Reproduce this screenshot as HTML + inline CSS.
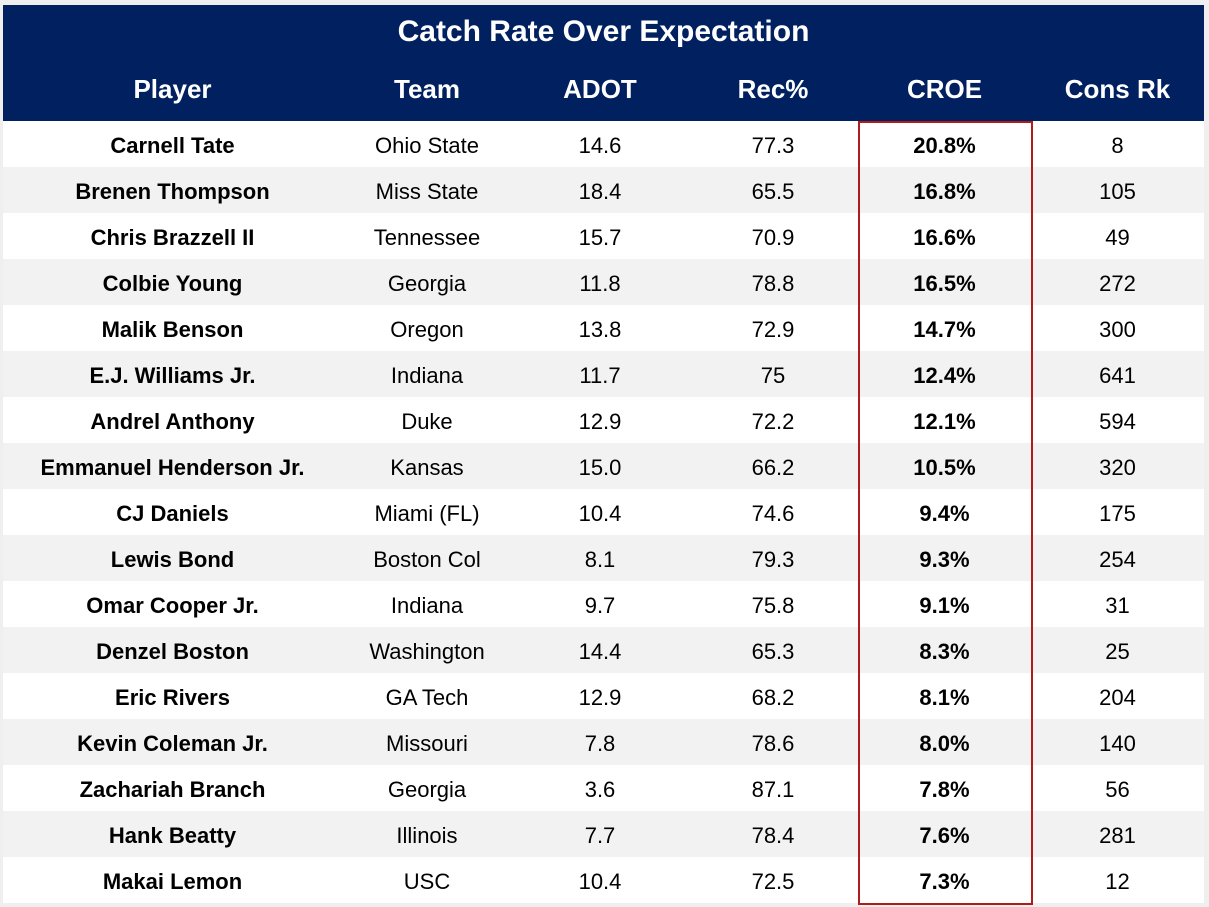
<!DOCTYPE html>
<html><head><meta charset="utf-8"><style>
html,body{margin:0;padding:0;background:#efefef;width:1209px;height:907px;overflow:hidden;font-family:"Liberation Sans",Arial,sans-serif;}
#wrap{position:absolute;left:3px;top:5px;width:1201px;}
#hdr{background:#002060;color:#fff;height:116px;position:relative;}
#title{position:absolute;left:0;right:0;top:10px;text-align:center;font-weight:bold;font-size:30px;}
.hrow{position:absolute;top:69px;left:0;right:0;height:36px;}
.c{position:absolute;text-align:center;white-space:nowrap;}
.hrow .c{font-weight:bold;font-size:26px;}
.row{position:relative;height:46px;font-size:22px;color:#000;}
.row .c{top:12px;}
.b{font-weight:bold;}
#box{position:absolute;left:855px;top:116px;width:171px;height:780px;border:2px solid #b01c1c;box-sizing:content-box;}
</style></head><body>
<div id="wrap">
<div id="hdr">
<div id="title">Catch Rate Over Expectation</div>
<div class="hrow">
<div class="c" style="left:0;width:339px">Player</div>
<div class="c" style="left:339px;width:170px">Team</div>
<div class="c" style="left:509px;width:176px">ADOT</div>
<div class="c" style="left:685px;width:170px">Rec%</div>
<div class="c" style="left:855px;width:173px">CROE</div>
<div class="c" style="left:1028px;width:173px">Cons Rk</div>
</div></div>
<div id="body"></div>
<div id="box"></div>
</div>
<script>
const players=["Carnell Tate","Brenen Thompson","Chris Brazzell II","Colbie Young","Malik Benson","E.J. Williams Jr.","Andrel Anthony","Emmanuel Henderson Jr.","CJ Daniels","Lewis Bond","Omar Cooper Jr.","Denzel Boston","Eric Rivers","Kevin Coleman Jr.","Zachariah Branch","Hank Beatty","Makai Lemon"];
const teams=["Ohio State","Miss State","Tennessee","Georgia","Oregon","Indiana","Duke","Kansas","Miami (FL)","Boston Col","Indiana","Washington","GA Tech","Missouri","Georgia","Illinois","USC"];
const adot=["14.6","18.4","15.7","11.8","13.8","11.7","12.9","15.0","10.4","8.1","9.7","14.4","12.9","7.8","3.6","7.7","10.4"];
const rec=["77.3","65.5","70.9","78.8","72.9","75","72.2","66.2","74.6","79.3","75.8","65.3","68.2","78.6","87.1","78.4","72.5"];
const croe=["20.8%","16.8%","16.6%","16.5%","14.7%","12.4%","12.1%","10.5%","9.4%","9.3%","9.1%","8.3%","8.1%","8.0%","7.8%","7.6%","7.3%"];
const consRk=["8","105","49","272","300","641","594","320","175","254","31","25","204","140","56","281","12"];
const cols=[[0,339],[339,170],[509,176],[685,170],[855,173],[1028,173]];
const names=["player","team","adot","rec-pct","croe","cons-rk"];
const body=document.getElementById('body');
players.forEach((p,i)=>{
  const r=document.createElement('div');
  r.className='row';
  r.style.background=i%2?'#f2f2f2':'#fff';
  
  
  const vals=[p,teams[i],adot[i],rec[i],croe[i],consRk[i]];
  vals.forEach((v,j)=>{
    const c=document.createElement('div');
    c.className='c'+((j==0||j==4)?' b':'');
    c.style.left=cols[j][0]+'px';c.style.width=cols[j][1]+'px';
    c.textContent=v;
    
    
    r.appendChild(c);
  });
  body.appendChild(r);
});
</script>
</body></html>
